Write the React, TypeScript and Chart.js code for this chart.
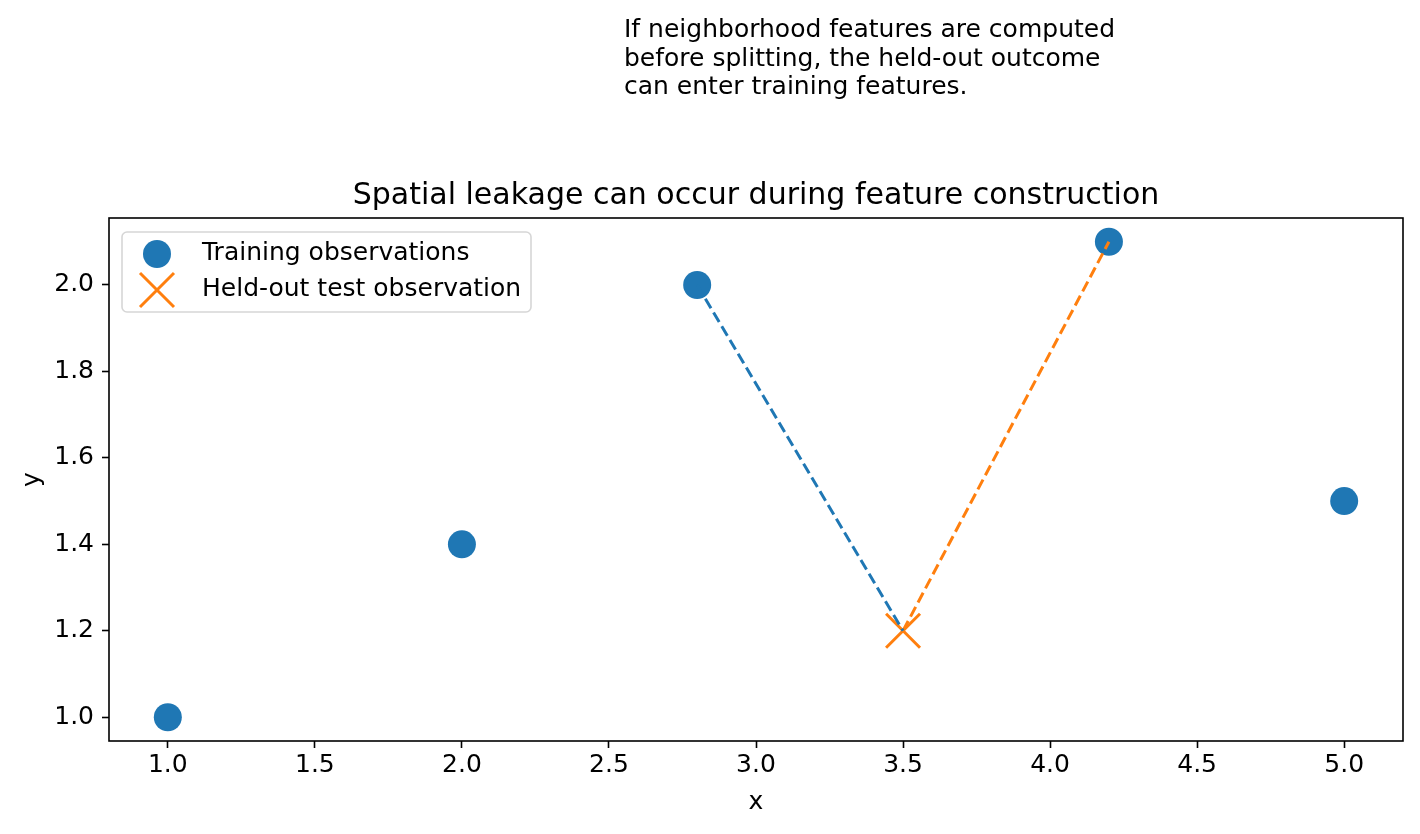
import { useEffect, useRef } from "react";
import { Chart, registerables } from "chart.js";

Chart.register(...registerables);

const trainX = [1.0, 2.0, 2.8, 4.2, 5.0];
const trainY = [1.0, 1.4, 2.0, 2.1, 1.5];
const testX = [3.5];
const testY = [1.2];
const linkBlueX = [2.8, 3.5];
const linkBlueY = [2.0, 1.2];
const linkOrangeX = [3.5, 4.2];
const linkOrangeY = [1.2, 2.1];
const xTicks = [1.0, 1.5, 2.0, 2.5, 3.0, 3.5, 4.0, 4.5, 5.0];
const yTicks = [1.0, 1.2, 1.4, 1.6, 1.8, 2.0];
const xLimits = [0.8, 5.2];
const yLimits = [0.945, 2.155];
const legendLabels = ["Training observations", "Held-out test observation"];
const titleText = "Spatial leakage can occur during feature construction";
const noteLines = [
  "If neighborhood features are computed",
  "before splitting, the held-out outcome",
  "can enter training features.",
];
const xLabel = "x";
const yLabel = "y";

const BLUE = "#1f77b4";
const ORANGE = "#ff7f0e";
const FONT = "'DejaVu Sans', sans-serif";

const zip = (xs: number[], ys: number[]) => xs.map((x, i) => ({ x, y: ys[i] }));

const overlay = {
  id: "overlay",
  afterDraw(chart: any) {
    const { ctx } = chart;
    const { left, right, top, bottom } = chart.chartArea;
    ctx.save();
    // frame
    ctx.strokeStyle = "#000";
    ctx.lineWidth = 1.6;
    ctx.strokeRect(left, top, right - left, bottom - top);

    // title
    ctx.fillStyle = "#000";
    ctx.font = `30px ${FONT}`;
    ctx.textAlign = "center";
    ctx.textBaseline = "alphabetic";
    ctx.fillText(titleText, (left + right) / 2, top - 14);

    // note
    ctx.font = `25px ${FONT}`;
    ctx.textAlign = "left";
    noteLines.forEach((l, i) => ctx.fillText(l, 624, 37 + i * 28.5));

    // axis labels
    ctx.textAlign = "center";
    ctx.fillText(xLabel, (left + right) / 2, 809);
    ctx.save();
    ctx.translate(39, (top + bottom) / 2);
    ctx.rotate(-Math.PI / 2);
    ctx.fillText(yLabel, 0, 0);
    ctx.restore();

    // legend
    const lx = left + 13;
    const ly = top + 14;
    ctx.beginPath();
    (ctx as any).roundRect(lx, ly, 409, 80, 5);
    ctx.fillStyle = "rgba(255,255,255,0.8)";
    ctx.fill();
    ctx.strokeStyle = "#d6d6d6";
    ctx.lineWidth = 1.6;
    ctx.stroke();

    ctx.beginPath();
    ctx.arc(lx + 35, ly + 22, 14, 0, Math.PI * 2);
    ctx.fillStyle = BLUE;
    ctx.fill();

    ctx.beginPath();
    const cx = lx + 35;
    const cy = ly + 58;
    const h = 17;
    ctx.moveTo(cx - h, cy - h);
    ctx.lineTo(cx + h, cy + h);
    ctx.moveTo(cx - h, cy + h);
    ctx.lineTo(cx + h, cy - h);
    ctx.strokeStyle = ORANGE;
    ctx.lineWidth = 3;
    ctx.stroke();

    ctx.fillStyle = "#000";
    ctx.font = `25px ${FONT}`;
    ctx.textAlign = "left";
    ctx.textBaseline = "middle";
    ctx.fillText(legendLabels[0], lx + 80, ly + 21);
    ctx.fillText(legendLabels[1], lx + 80, ly + 57);
    ctx.restore();
  },
};

export default function App() {
  const ref = useRef<HTMLCanvasElement>(null);
  useEffect(() => {
    if (!ref.current) return;
    const chart = new Chart(ref.current, {
      type: "scatter",
      data: {
        datasets: [
          {
            label: "link-blue",
            data: zip(linkBlueX, linkBlueY),
            showLine: true,
            borderColor: BLUE,
            borderWidth: 3,
            borderDash: [11, 5],
            pointRadius: 0,
            fill: false,
          },
          {
            label: "link-orange",
            data: zip(linkOrangeX, linkOrangeY),
            showLine: true,
            borderColor: ORANGE,
            borderWidth: 3,
            borderDash: [11, 5],
            pointRadius: 0,
            fill: false,
          },
          {
            label: legendLabels[1],
            data: zip(testX, testY),
            pointStyle: "crossRot",
            pointRadius: 24,
            borderColor: ORANGE,
            backgroundColor: ORANGE,
            borderWidth: 3,
          },
          {
            label: legendLabels[0],
            data: zip(trainX, trainY),
            pointStyle: "circle",
            pointRadius: 14,
            backgroundColor: BLUE,
            borderColor: BLUE,
            borderWidth: 0,
          },
        ],
      },
      options: {
        responsive: false,
        animation: false,
        devicePixelRatio: 1,
        events: [],
        layout: { autoPadding: false, padding: { top: 218, right: 17, bottom: 0, left: 0 } },
        plugins: {
          legend: { display: false },
          tooltip: { enabled: false },
          title: { display: false },
        },
        scales: {
          x: {
            type: "linear",
            min: xLimits[0],
            max: xLimits[1],
            afterBuildTicks: (axis: any) => {
              axis.ticks = xTicks.map((v) => ({ value: v }));
            },
            afterFit: (axis: any) => {
              axis.height = 93;
              axis.paddingLeft = 0;
              axis.paddingRight = 0;
            },
            border: { display: false },
            grid: {
              drawOnChartArea: false,
              drawTicks: true,
              tickLength: 7,
              tickWidth: 1.6,
              tickColor: "#000",
            },
            ticks: {
              color: "#000",
              font: { family: FONT, size: 25 },
              padding: 2,
              maxRotation: 0,
              autoSkip: false,
              callback: (v: any) => Number(v).toFixed(1),
            },
          },
          y: {
            type: "linear",
            min: yLimits[0],
            max: yLimits[1],
            afterBuildTicks: (axis: any) => {
              axis.ticks = yTicks.map((v) => ({ value: v }));
            },
            afterFit: (axis: any) => {
              axis.width = 109;
              axis.paddingTop = 0;
              axis.paddingBottom = 0;
            },
            border: { display: false },
            grid: {
              drawOnChartArea: false,
              drawTicks: true,
              tickLength: 7,
              tickWidth: 1.6,
              tickColor: "#000",
            },
            ticks: {
              color: "#000",
              font: { family: FONT, size: 25 },
              padding: 8,
              autoSkip: false,
              callback: (v: any) => Number(v).toFixed(1),
            },
          },
        },
      },
      plugins: [overlay],
    });
    return () => chart.destroy();
  }, []);
  return (
    <div style={{ position: "absolute", left: 0, top: 0, width: 1420, height: 834, background: "#fff" }}>
      <canvas ref={ref} width={1420} height={834} />
    </div>
  );
}
